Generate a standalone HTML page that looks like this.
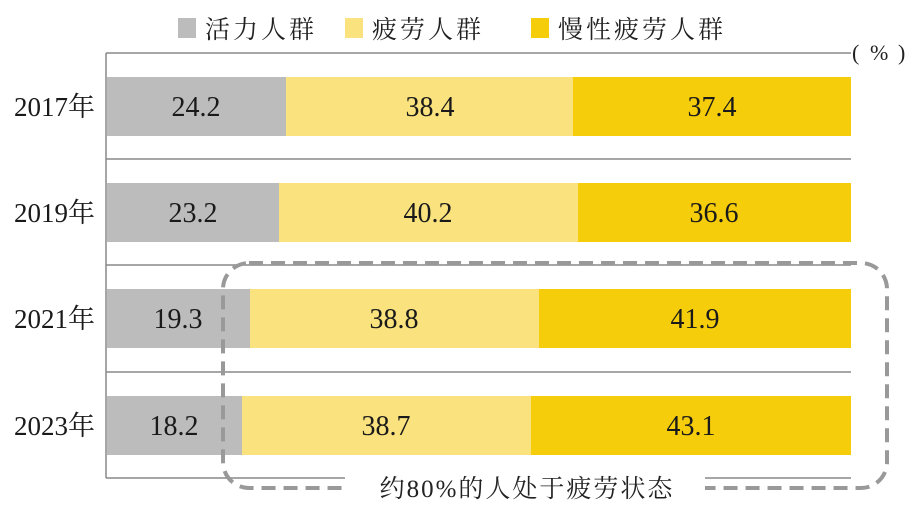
<!DOCTYPE html>
<html><head><meta charset="utf-8"><style>
body{margin:0;background:#fff;width:918px;height:502px;overflow:hidden}
</style></head><body>
<svg width="918" height="502" xmlns="http://www.w3.org/2000/svg" font-family="Liberation Serif, Noto Serif CJK SC, serif">
<rect x="178" y="18" width="18" height="20" fill="#bdbcbc"/>
<text x="205" y="38" font-size="25" fill="#222" letter-spacing="3">活力人群</text>
<rect x="345" y="18" width="18" height="20" fill="#fae37e"/>
<text x="372" y="38" font-size="25" fill="#222" letter-spacing="3">疲劳人群</text>
<rect x="531" y="18" width="18" height="20" fill="#f6cd0b"/>
<text x="558" y="38" font-size="25" fill="#222" letter-spacing="3">慢性疲劳人群</text>
<text x="852" y="60" font-size="22" fill="#222">(</text>
<text x="870" y="60" font-size="22" fill="#222">%</text>
<text x="898" y="60" font-size="22" fill="#222">)</text>
<g stroke="#888" stroke-width="1.5">
<line x1="106" y1="53" x2="851" y2="53"/>
<line x1="106" y1="159" x2="851" y2="159"/>
<line x1="106" y1="265" x2="851" y2="265"/>
<line x1="106" y1="372" x2="851" y2="372"/>
<line x1="106" y1="478" x2="851" y2="478"/>
<line x1="106" y1="53" x2="106" y2="478"/>
</g>
<g>
<rect x="107" y="77" width="179" height="59" fill="#bdbcbc"/><rect x="286" y="77" width="287" height="59" fill="#fae37e"/><rect x="573" y="77" width="278" height="59" fill="#f6cd0b"/>
<rect x="107" y="183" width="172" height="59" fill="#bdbcbc"/><rect x="279" y="183" width="299" height="59" fill="#fae37e"/><rect x="578" y="183" width="273" height="59" fill="#f6cd0b"/>
<rect x="107" y="289" width="143" height="59" fill="#bdbcbc"/><rect x="250" y="289" width="289" height="59" fill="#fae37e"/><rect x="539" y="289" width="312" height="59" fill="#f6cd0b"/>
<rect x="107" y="396" width="135" height="59" fill="#bdbcbc"/><rect x="242" y="396" width="289" height="59" fill="#fae37e"/><rect x="531" y="396" width="320" height="59" fill="#f6cd0b"/>
</g>
<g font-size="28" fill="#1a1a1a" text-anchor="middle">
<text x="196" y="116">24.2</text><text x="430" y="116">38.4</text><text x="712" y="116">37.4</text>
<text x="193" y="222">23.2</text><text x="428" y="222">40.2</text><text x="714" y="222">36.6</text>
<text x="178" y="328">19.3</text><text x="394" y="328">38.8</text><text x="695" y="328">41.9</text>
<text x="174" y="435">18.2</text><text x="386" y="435">38.7</text><text x="691" y="435">43.1</text>
</g>
<g font-size="27" fill="#1a1a1a" text-anchor="end">
<text x="95" y="116">2017年</text><text x="95" y="222">2019年</text><text x="95" y="328">2021年</text><text x="95" y="435">2023年</text>
</g>
<rect x="223" y="263" width="664" height="225" rx="26" fill="none" stroke="#999" stroke-width="4" stroke-dasharray="14 8"/>
<rect x="345" y="470" width="360" height="32" fill="#fff"/>
<text x="527" y="497" font-size="25" fill="#222" text-anchor="middle" letter-spacing="2">约80%的人处于疲劳状态</text>
</svg>
</body></html>
